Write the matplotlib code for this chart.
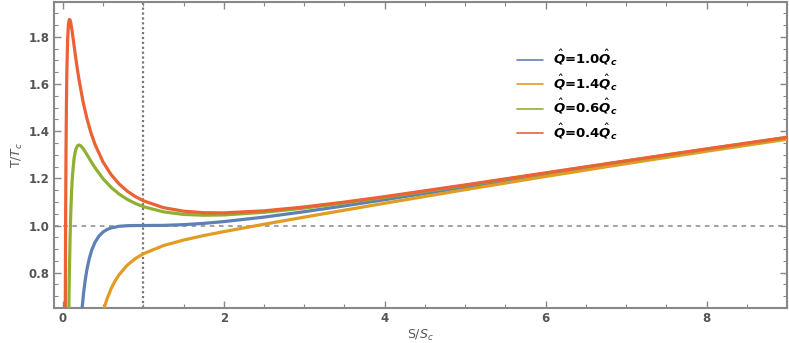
import matplotlib
matplotlib.use("Agg")
import matplotlib.pyplot as plt
from matplotlib.ticker import MultipleLocator

plt.rcParams['mathtext.fontset'] = 'custom'
plt.rcParams['mathtext.rm'] = 'DejaVu Sans'
plt.rcParams['mathtext.it'] = 'DejaVu Sans:italic'
plt.rcParams['mathtext.bf'] = 'DejaVu Sans:bold'
plt.rcParams['mathtext.bfit'] = 'DejaVu Sans:italic:bold'

# values (x = S/S_c, y = T/T_c)
x_q10 = [0.23, 0.24, 0.26, 0.28, 0.30, 0.33, 0.36, 0.40, 0.45, 0.50, 0.55, 0.60, 0.70,
         0.80, 0.90, 1.0, 1.25, 1.5, 1.75, 2, 2.5, 3, 3.5, 4, 5, 6, 7, 8, 9]
y_q10 = [0.6105, 0.6515, 0.7192, 0.7721, 0.8140, 0.8616, 0.8963, 0.9289, 0.9555, 0.9723,
         0.9830, 0.9898, 0.9967, 0.9992, 0.9999, 1.0, 1.0006, 1.0036, 1.0090, 1.0165,
         1.0356, 1.0585, 1.0834, 1.1094, 1.1628, 1.2163, 1.2689, 1.3203, 1.3704]

x_q14 = [0.50, 0.52, 0.55, 0.60, 0.65, 0.70, 0.80, 0.90, 1.0, 1.25, 1.5, 1.75, 2, 2.5,
         3, 3.5, 4, 5, 6, 7, 8, 9]
y_q14 = [0.6329, 0.6571, 0.6888, 0.7316, 0.7651, 0.7918, 0.8315, 0.8594, 0.88, 0.9148,
         0.9383, 0.9572, 0.9740, 1.0053, 1.0354, 1.0650, 1.0944, 1.1520, 1.2081, 1.2624,
         1.3150, 1.3659]

x_q06 = [0.07, 0.075, 0.08, 0.09, 0.10, 0.11, 0.12, 0.14, 0.16, 0.18, 0.20, 0.22, 0.25,
         0.30, 0.35, 0.40, 0.50, 0.60, 0.70, 0.80, 0.90, 1.0, 1.25, 1.5, 1.75, 2, 2.5,
         3, 3.5, 4, 5, 6, 7, 8, 9]
y_q06 = [0.504, 0.6504, 0.7690, 0.9458, 1.0673, 1.1523, 1.2124, 1.2857, 1.3219, 1.3376,
         1.3416, 1.3388, 1.3275, 1.3008, 1.2723, 1.2451, 1.1985, 1.1619, 1.1333, 1.1110,
         1.0936, 1.08, 1.0579, 1.0471, 1.0436, 1.0448, 1.0559, 1.0739, 1.0956, 1.1194,
         1.1699, 1.2217, 1.2732, 1.3239, 1.3733]

x_q04 = [0.030, 0.031, 0.032, 0.034, 0.036, 0.04, 0.045, 0.05, 0.06, 0.07, 0.08, 0.09,
         0.10, 0.12, 0.14, 0.16, 0.18, 0.20, 0.25, 0.30, 0.35, 0.40, 0.50, 0.60, 0.70,
         0.80, 0.90, 1.0, 1.25, 1.5, 1.75, 2, 2.5, 3, 3.5, 4, 5, 6, 7, 8, 9]
y_q04 = [0.546, 0.6614, 0.7659, 0.9465, 1.0960, 1.3250, 1.5200, 1.6491, 1.7929, 1.8541,
         1.8738, 1.8718, 1.8578, 1.8138, 1.7630, 1.7125, 1.6650, 1.6212, 1.5275, 1.4530,
         1.3930, 1.3440, 1.2693, 1.2157, 1.1760, 1.1460, 1.1229, 1.105, 1.0758, 1.0608,
         1.0544, 1.0536, 1.0622, 1.0787, 1.0994, 1.1225, 1.1721, 1.2234, 1.2745, 1.3250,
         1.3743]

labels = [r'$\hat{\mathbfit{Q}}$=1.0$\hat{\mathbfit{Q}}_{\mathbfit{c}}$',
          r'$\hat{\mathbfit{Q}}$=1.4$\hat{\mathbfit{Q}}_{\mathbfit{c}}$',
          r'$\hat{\mathbfit{Q}}$=0.6$\hat{\mathbfit{Q}}_{\mathbfit{c}}$',
          r'$\hat{\mathbfit{Q}}$=0.4$\hat{\mathbfit{Q}}_{\mathbfit{c}}$']
colors = ['#5E81B5', '#E19C24', '#8FB032', '#EB6235']

fig = plt.figure(figsize=(7.89, 3.43), dpi=100)
ax = fig.add_axes([0.0684, 0.102, 0.9291, 0.8935])

ax.axhline(1.0, color='#888888', lw=1.1, ls=(0, (3, 3)), zorder=1)
ax.axvline(1.0, color='#777777', lw=1.6, ls=(0, (1, 1.2)), zorder=1)

series = [(x_q10, y_q10), (x_q14, y_q14), (x_q06, y_q06), (x_q04, y_q04)]
for (xs, ys), c, lab in zip(series, colors, labels):
    ax.plot(xs, ys, color=c, lw=2.3, label=lab, zorder=3, solid_capstyle='round')

ax.set_xlim(-0.11, 9.0)
ax.set_ylim(0.65, 1.95)

ax.xaxis.set_major_locator(MultipleLocator(2))
ax.xaxis.set_minor_locator(MultipleLocator(0.5))
ax.yaxis.set_major_locator(MultipleLocator(0.2))
ax.yaxis.set_minor_locator(MultipleLocator(0.05))
ax.set_yticks([0.8, 1.0, 1.2, 1.4, 1.6, 1.8])
ax.set_yticklabels(['0.8', '1.0', '1.2', '1.4', '1.6', '1.8'])
ax.set_xticks([0, 2, 4, 6, 8])
ax.set_xticklabels(['0', '2', '4', '6', '8'])

ax.tick_params(which='both', direction='in', top=True, right=True, color='#888888',
               labelcolor='#555555', labelsize=8.5)
ax.tick_params(which='major', length=5, width=1.0, pad=3)
ax.tick_params(which='minor', length=3, width=0.8)
for lbl in ax.get_xticklabels() + ax.get_yticklabels():
    lbl.set_fontweight('bold')
for s in ax.spines.values():
    s.set_color('#888888')
    s.set_linewidth(1.5)

ax.set_xlabel(r'S/$S_c$', color='#555555', fontsize=9, labelpad=2)
ax.set_ylabel(r'T/$T_c$', color='#555555', fontsize=9, labelpad=3)

leg = ax.legend(loc='upper left', bbox_to_anchor=(0.632, 0.848), frameon=False,
                borderpad=0, borderaxespad=0, handlelength=1.97, handletextpad=0.76,
                labelspacing=0.32, prop={'weight': 'bold', 'size': 9.5})
for line in leg.get_lines():
    line.set_linewidth(1.2)

fig.savefig('out.png', dpi=100)
